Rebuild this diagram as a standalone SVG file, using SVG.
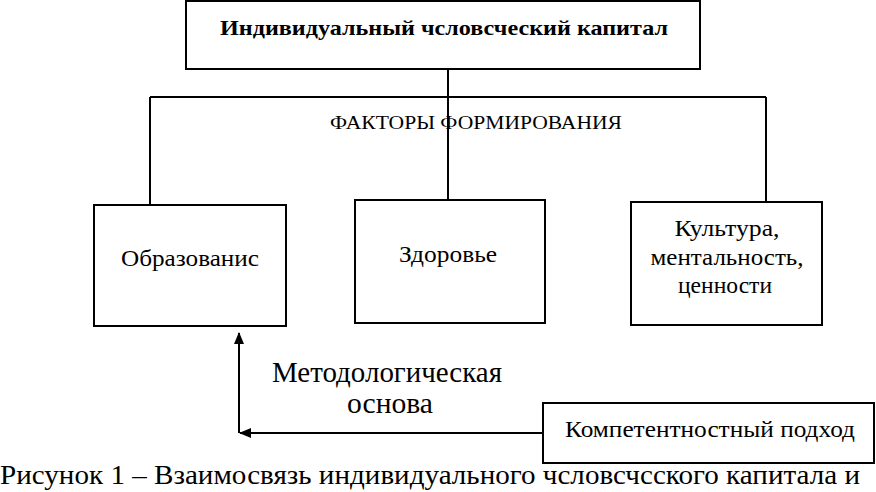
<svg xmlns="http://www.w3.org/2000/svg" width="876" height="492" viewBox="0 0 876 492">
<style>
.box{fill:#fff;stroke:#000;stroke-width:2}
.ln{fill:none;stroke:#000;stroke-width:2}
text{font-family:"Liberation Serif","Times New Roman",serif;fill:#000}
.t{font-size:24px;text-anchor:middle}
</style>
<defs>
<marker id="ah" viewBox="0 0 12 10" refX="11" refY="5" markerWidth="12" markerHeight="10" markerUnits="userSpaceOnUse" orient="auto">
<path d="M0,0 L12,5 L0,10 Z" fill="#000"/>
</marker>
</defs>
<rect width="876" height="492" fill="#fff"/>
<g id="connectors">
<path class="ln" d="M448,69 V200"/>
<path class="ln" d="M150,97 H766"/>
<path class="ln" d="M150,97 V205"/>
<path class="ln" d="M766,97 V202"/>
<path class="ln" d="M543,433 H240" marker-end="url(#ah)"/>
<path class="ln" d="M239,433 V333" marker-end="url(#ah)"/>
</g>
<g id="top">
<rect class="box" x="186" y="1" width="514" height="68"/>
<text x="444" y="35" font-size="22" font-weight="bold" text-anchor="middle" textLength="448" lengthAdjust="spacingAndGlyphs">Индивидуальный чсловсческий капитал</text>
</g>
<g id="factors-label">
<text x="476" y="129" font-size="18" text-anchor="middle" textLength="292" lengthAdjust="spacingAndGlyphs">ФАКТОРЫ ФОРМИРОВАНИЯ</text>
</g>
<g id="education">
<rect class="box" x="94" y="205" width="192" height="121"/>
<text class="t" x="190" y="266" textLength="138" lengthAdjust="spacingAndGlyphs">Образованис</text>
</g>
<g id="health">
<rect class="box" x="355" y="200" width="190" height="123"/>
<text class="t" x="448" y="262" textLength="98" lengthAdjust="spacingAndGlyphs">Здоровье</text>
</g>
<g id="culture">
<rect class="box" x="631" y="202" width="191" height="123"/>
<text class="t" x="727" y="236" textLength="105" lengthAdjust="spacingAndGlyphs">Культура,</text>
<text class="t" x="727" y="265" textLength="153" lengthAdjust="spacingAndGlyphs">ментальность,</text>
<text class="t" x="725" y="293" textLength="94" lengthAdjust="spacingAndGlyphs">ценности</text>
</g>
<g id="competence">
<rect class="box" x="543" y="403" width="331" height="60"/>
<text class="t" x="710" y="437" textLength="290" lengthAdjust="spacingAndGlyphs">Компетентностный подход</text>
</g>
<g id="arrow-label">
<text x="387" y="382" font-size="29" text-anchor="middle" textLength="230" lengthAdjust="spacingAndGlyphs">Методологическая</text>
<text x="390" y="413" font-size="29" text-anchor="middle" textLength="86" lengthAdjust="spacingAndGlyphs">основа</text>
</g>
<text x="0" y="484" font-size="28" textLength="860" lengthAdjust="spacingAndGlyphs">Рисунок 1 – Взаимосвязь индивидуального чсловсчсского капитала и</text>
</svg>
